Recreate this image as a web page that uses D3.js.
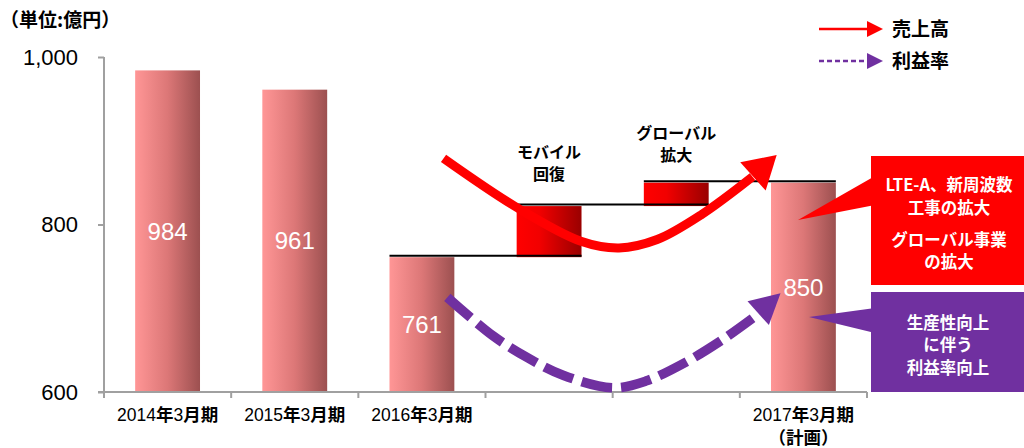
<!DOCTYPE html>
<html>
<head>
<meta charset="utf-8">
<script src="https://cdn.jsdelivr.net/npm/d3@7"></script>
<style>
  html, body { margin: 0; padding: 0; background: #fff; }
  svg { display: block; }
</style>
</head>
<body>
<svg id="chart" width="1024" height="448"></svg>
<script>
// ---- data ----
const categories = ["2014年3月期", "2015年3月期", "2016年3月期", "", "", "2017年3月期"];
const subLabels = ["", "", "", "", "", "（計画）"];
const salesTotals = [984, 961, 761, null, null, 850];      // 売上高 (億円)
const bridgeIndex = [3, 4];                                  // bridge columns
const bridgeDeltas = [61, 28];                               // モバイル回復, グローバル拡大
const bridgeLabels = [["モバイル", "回復"], ["グローバル", "拡大"]];
const yTicks = [600, 800, 1000];
const unitLabel = "（単位:億円）";
const legendLabels = ["売上高", "利益率"];
const salesCallout = ["LTE-A、新周波数", "工事の拡大", "グローバル事業", "の拡大"];
const marginCallout = ["生産性向上", "に伴う", "利益率向上"];
// trend arrows: [category position, value]
const salesTrend = [[2.17, 879], [2.75, 820], [3.25, 780], [3.55, 772], [3.85, 782], [4.2, 812], [4.6, 857]];
const salesTrendTip = [4.79, 883];
const marginTrend = [[2.2, 713], [2.56, 667], [2.83, 641], [3.11, 620], [3.5, 605], [3.76, 613], [4.08, 636], [4.36, 662], [4.6, 688]];
const marginTrendTip = [4.82, 718];

const RED = "#ff0000", PURPLE = "#7030a0";
const JP = "'Noto Sans CJK JP', sans-serif";
const LAT = "'Liberation Sans', Arial, 'Noto Sans CJK JP', sans-serif";

const svg = d3.select("#chart");

const x = d3.scaleBand().domain(d3.range(categories.length))
  .range([104, 867]).paddingInner(0.49).paddingOuter(0.245);
const y = d3.scaleLinear().domain([600, 1000]).range([392, 57]);
const cx = i => x(0) + x.bandwidth() / 2 + i * x.step();   // continuous category position

// ---- gradients ----
const defs = svg.append("defs");
const g1 = defs.append("linearGradient").attr("id", "barGrad");
[[0, "#ff9696"], [0.5, "#dc7777"], [1, "#9c5050"]].forEach(([o, c]) =>
  g1.append("stop").attr("offset", o).attr("stop-color", c));
const g2 = defs.append("linearGradient").attr("id", "bridgeGrad");
[[0, "#ff0000"], [0.35, "#f20000"], [1, "#990000"]].forEach(([o, c]) =>
  g2.append("stop").attr("offset", o).attr("stop-color", c));

// ---- total bars ----
const totals = salesTotals.map((v, i) => ({ i, v })).filter(d => d.v !== null);
svg.append("g").selectAll("rect").data(totals).join("rect")
  .attr("x", d => x(d.i)).attr("width", x.bandwidth())
  .attr("y", d => y(d.v)).attr("height", d => y(600) - y(d.v))
  .attr("fill", "url(#barGrad)");

// ---- bridge bars ----
let level = salesTotals[2];
const bridges = bridgeDeltas.map((d, k) => {
  const from = level; level += d;
  return { i: bridgeIndex[k], from, to: level, label: bridgeLabels[k] };
});
svg.append("g").selectAll("rect").data(bridges).join("rect")
  .attr("x", d => x(d.i)).attr("width", x.bandwidth())
  .attr("y", d => y(d.to)).attr("height", d => y(d.from) - y(d.to))
  .attr("fill", "url(#bridgeGrad)");

// connector lines between consecutive levels
const connectors = [{ a: 2, b: 3, v: salesTotals[2] }]
  .concat(bridges.map(d => ({ a: d.i, b: d.i + 1, v: d.to })));
svg.append("g").selectAll("line").data(connectors).join("line")
  .attr("x1", d => x(d.a)).attr("x2", d => x(d.b) + x.bandwidth())
  .attr("y1", d => y(d.v) - 1.5).attr("y2", d => y(d.v) - 1.5)
  .attr("stroke", "#000").attr("stroke-width", 2);

// ---- axes ----
const axisColor = "#a0a0a0";
const yAxis = svg.append("g").attr("transform", `translate(${x.range()[0]},0)`)
  .call(d3.axisLeft(y).tickValues(yTicks).tickFormat(d3.format(",")).tickSize(6).tickPadding(20));
yAxis.select(".domain").attr("stroke", axisColor).attr("stroke-width", 2).attr("d", `M0,${y(1000)}V${y(600)}`);
yAxis.selectAll(".tick line").attr("stroke", axisColor).attr("stroke-width", 2);
yAxis.selectAll(".tick text").attr("font-family", LAT).attr("font-size", 22).attr("fill", "#000");

const xAxis = svg.append("g");
xAxis.append("line").attr("x1", 98).attr("x2", x.range()[1])
  .attr("y1", y(600)).attr("y2", y(600)).attr("stroke", axisColor).attr("stroke-width", 2);
xAxis.selectAll("line.t").data(d3.range(categories.length + 1)).join("line").attr("class", "t")
  .attr("x1", i => x.range()[0] + i * x.step()).attr("x2", i => x.range()[0] + i * x.step())
  .attr("y1", y(600)).attr("y2", y(600) + 6).attr("stroke", axisColor).attr("stroke-width", 2);

// category labels: Latin digits regular, kanji bold
function runs(s) {
  return s.match(/[\x00-\x7f]+|[^\x00-\x7f]+/g) || [];
}
function mixedText(sel, s) {
  runs(s).forEach(r => {
    const ascii = /^[\x00-\x7f]+$/.test(r);
    sel.append("tspan").text(r)
      .attr("font-family", ascii ? LAT : JP)
      .attr("font-weight", ascii ? "normal" : "bold");
  });
}
categories.forEach((c, i) => {
  if (!c) return;
  const t = svg.append("text").attr("x", cx(i)).attr("y", 421)
    .attr("text-anchor", "middle").attr("font-size", 17.5).attr("fill", "#000");
  mixedText(t, c);
  if (subLabels[i]) {
    svg.append("text").attr("x", cx(i)).attr("y", 444).attr("text-anchor", "middle")
      .attr("font-family", JP).attr("font-weight", "bold").attr("font-size", 17.5).text(subLabels[i]);
  }
});

// ---- value labels inside bars ----
svg.append("g").selectAll("text").data(totals).join("text")
  .attr("x", d => cx(d.i)).attr("y", d => (y(d.v) + y(600)) / 2)
  .attr("dy", "0.36em").attr("text-anchor", "middle")
  .attr("font-family", LAT).attr("font-size", 24).attr("fill", "#fff")
  .text(d => d.v);

// bridge labels
bridges.forEach((d, k) => {
  const base = k === 0 ? 158 : 139;
  d.label.forEach((line, j) => {
    svg.append("text").attr("x", cx(d.i)).attr("y", base + j * 22)
      .attr("text-anchor", "middle").attr("font-family", JP).attr("font-weight", "bold")
      .attr("font-size", 16).attr("fill", "#000").text(line);
  });
});

// ---- trend arrows ----
const P = d => [cx(d[0]), y(d[1])];
function arrowHead(from, tip, len, width) {
  const dx = tip[0] - from[0], dy = tip[1] - from[1];
  const L = Math.hypot(dx, dy), ux = dx / L, uy = dy / L;
  const bx = tip[0] - ux * len, by = tip[1] - uy * len;
  return [[tip[0], tip[1]], [bx - uy * width / 2, by + ux * width / 2], [bx + uy * width / 2, by - ux * width / 2]];
}
const line = d3.line().curve(d3.curveCatmullRom.alpha(0.5));

const sPts = salesTrend.map(P);
svg.append("path").attr("d", line(sPts)).attr("fill", "none")
  .attr("stroke", RED).attr("stroke-width", 9);
svg.append("polygon").attr("fill", RED)
  .attr("points", arrowHead(sPts[sPts.length - 1], P(salesTrendTip), 32, 38).join(" "));

const mPts = marginTrend.map(P);
svg.append("path").attr("d", line(mPts)).attr("fill", "none")
  .attr("stroke", PURPLE).attr("stroke-width", 9.5).attr("stroke-dasharray", "31 9");
svg.append("polygon").attr("fill", PURPLE)
  .attr("points", arrowHead(mPts[mPts.length - 1], P(marginTrendTip), 30, 32).join(" "));

// ---- callout boxes ----
svg.append("polygon").attr("fill", RED).attr("points", "798,220 875,176 875,205");
svg.append("rect").attr("x", 871).attr("y", 156).attr("width", 153).attr("height", 129).attr("fill", RED);
[185, 208, 240, 262].forEach((yy, k) => {
  svg.append("text").attr("x", 949).attr("y", yy).attr("dy", "0.36em").attr("text-anchor", "middle")
    .attr("font-family", JP).attr("font-weight", "bold").attr("font-size", 16.5).attr("fill", "#fff")
    .text(salesCallout[k]);
});

svg.append("polygon").attr("fill", PURPLE).attr("points", "809,317 875,308 875,333");
svg.append("rect").attr("x", 871).attr("y", 292).attr("width", 153).attr("height", 100).attr("fill", PURPLE);
[323, 345, 368].forEach((yy, k) => {
  svg.append("text").attr("x", 948).attr("y", yy).attr("dy", "0.36em").attr("text-anchor", "middle")
    .attr("font-family", JP).attr("font-weight", "bold").attr("font-size", 16.5).attr("fill", "#fff")
    .text(marginCallout[k]);
});

// ---- legend ----
const lg = svg.append("g");
lg.append("line").attr("x1", 819).attr("x2", 868).attr("y1", 29).attr("y2", 29)
  .attr("stroke", RED).attr("stroke-width", 2.5);
lg.append("polygon").attr("fill", RED).attr("points", "867,21 867,37 883,29");
lg.append("line").attr("x1", 819).attr("x2", 868).attr("y1", 61).attr("y2", 61)
  .attr("stroke", PURPLE).attr("stroke-width", 2.5).attr("stroke-dasharray", "5 3");
lg.append("polygon").attr("fill", PURPLE).attr("points", "867,53 867,69 883,61");
legendLabels.forEach((t, k) => {
  lg.append("text").attr("x", 892).attr("y", k ? 61 : 29).attr("dy", "0.36em")
    .attr("font-family", JP).attr("font-weight", "bold").attr("font-size", 19).attr("fill", "#000").text(t);
});

// unit label
svg.append("text").attr("x", 0).attr("y", 20).attr("dy", "0.36em")
  .attr("font-family", JP).attr("font-weight", "bold").attr("font-size", 19).attr("fill", "#000")
  .text(unitLabel);
</script>
</body>
</html>
